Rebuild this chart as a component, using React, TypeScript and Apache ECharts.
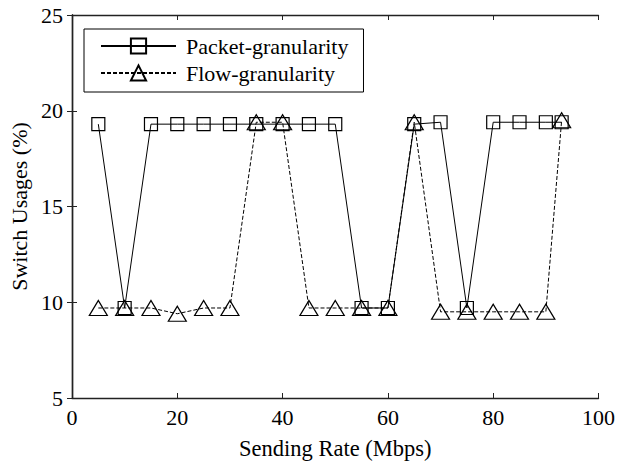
import React, { useEffect, useRef } from "react";
import * as echarts from "echarts";

const rates = [5, 10, 15, 20, 25, 30, 35, 40, 45, 50, 55, 60, 65, 70, 75, 80, 85, 90, 93];
const packetValues = [19.3, 9.7, 19.3, 19.3, 19.3, 19.3, 19.3, 19.3, 19.3, 19.3, 9.7, 9.7, 19.3, 19.4, 9.7, 19.4, 19.4, 19.4, 19.4];
const flowValues = [9.7, 9.7, 9.7, 9.4, 9.7, 9.7, 19.4, 19.4, 9.7, 9.7, 9.7, 9.7, 19.4, 9.5, 9.5, 9.5, 9.5, 9.5, 19.5];
const seriesNames = ["Packet-granularity", "Flow-granularity"];
const xTitle = "Sending Rate (Mbps)";
const yTitle = "Switch Usages (%)";

const FONT = "Liberation Serif";

export default function App() {
  const ref = useRef<HTMLDivElement>(null);
  useEffect(() => {
    if (!ref.current) return;
    const chart = echarts.init(ref.current, undefined, { renderer: "svg" });
    const axisCommon = {
      axisLine: { show: true, lineStyle: { color: "#222", width: 1.4 } },
      axisTick: { show: true, inside: true, length: 5, lineStyle: { color: "#222", width: 1 } },
      splitLine: { show: false },
    };
    chart.setOption({
      animation: false,
      backgroundColor: "#fff",
      textStyle: { fontFamily: FONT },
      grid: { left: 71, right: 17, top: 15, bottom: 66, containLabel: false },
      legend: {
        left: 84,
        top: 29,
        orient: "vertical",
        borderColor: "#000",
        borderWidth: 1,
        padding: [6, 15, 8, 16],
        itemGap: 5,
        itemWidth: 75,
        itemHeight: 19,
        textStyle: { fontFamily: FONT, fontSize: 22, color: "#000", padding: [0, 0, 0, 5] },
        data: seriesNames,
      },
      xAxis: [
        {
          type: "value",
          min: 0,
          max: 100,
          interval: 20,
          name: xTitle,
          nameLocation: "middle",
          nameGap: 39,
          nameTextStyle: { fontFamily: FONT, fontSize: 22.5, color: "#000" },
          axisLabel: { fontFamily: FONT, fontSize: 22, color: "#000", margin: 8 },
          ...axisCommon,
        },
        {
          type: "value",
          position: "top",
          min: 0,
          max: 100,
          interval: 20,
          axisLabel: { show: false },
          ...axisCommon,
        },
      ],
      yAxis: [
        {
          type: "value",
          min: 5,
          max: 25,
          interval: 5,
          name: yTitle,
          nameLocation: "middle",
          nameGap: 42,
          nameTextStyle: { fontFamily: FONT, fontSize: 22, color: "#000" },
          axisLabel: { fontFamily: FONT, fontSize: 22, color: "#000", margin: 9 },
          ...axisCommon,
        },
        {
          type: "value",
          position: "right",
          min: 5,
          max: 25,
          interval: 5,
          axisLabel: { show: false },
          ...axisCommon,
        },
      ],
      series: [
        {
          name: seriesNames[0],
          type: "line",
          data: rates.map((x, i) => [x, packetValues[i]]),
          symbol: "rect",
          symbolSize: 13,
          showAllSymbol: true,
          lineStyle: { color: "#000", width: 1, type: "solid" },
          itemStyle: { color: "transparent", borderColor: "#000", borderWidth: 1.2 },
          emphasis: { disabled: true },
        },
        {
          name: seriesNames[1],
          type: "line",
          data: rates.map((x, i) => [x, flowValues[i]]),
          symbol: "triangle",
          symbolSize: [18, 15],
          showAllSymbol: true,
          lineStyle: { color: "#000", width: 1, type: [4, 2] },
          itemStyle: { color: "transparent", borderColor: "#000", borderWidth: 1.2 },
          emphasis: { disabled: true },
        },
      ],
    });
    return () => chart.dispose();
  }, []);
  return <div ref={ref} style={{ width: 618, height: 465, position: "absolute", left: 0, top: 0 }} />;
}
